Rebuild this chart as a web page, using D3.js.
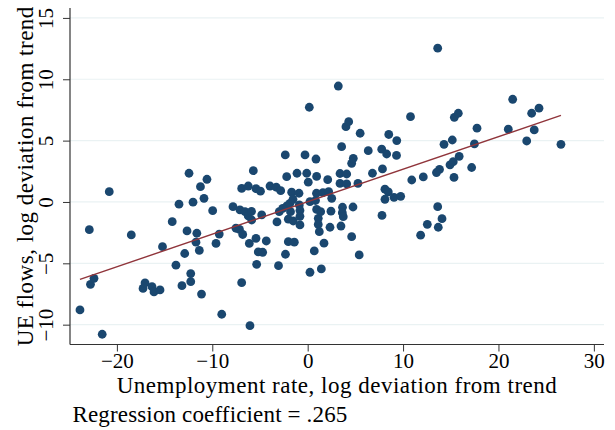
<!DOCTYPE html>
<html>
<head>
<meta charset="utf-8">
<script src="https://cdn.jsdelivr.net/npm/d3@7"></script>
<style>
  html, body { margin: 0; padding: 0; background: #ffffff; }
  svg { display: block; }
  text { font-family: "Liberation Serif", "Times New Roman", serif; fill: #000; }
</style>
</head>
<body>
<script>
// Unemployment rate, log deviation from trend (x)
const unemployment = [
  -23.87, -22.77, -22.40, -22.89, -21.54, -20.80, -18.49, -17.26, -17.05, -16.32,
  -16.11, -15.48, -15.22, -14.20, -13.81, -13.49, -13.18, -12.89, -12.65, -12.44,
  -12.26, -12.26, -12.02, -11.62, -11.71, -11.36, -11.13, -11.24, -10.87, -10.56,
  -9.96, -9.27, -9.61, -9.01, -7.83, -7.52, -7.15, -7.10, -6.92, -6.92,
  -6.81, -6.57, -6.23, -6.23, -6.12, -6.05, -5.87, -5.89, -5.70, -5.42,
  -5.42, -5.35, -5.18, -4.72, -4.95, -4.82, -4.34, -3.95, -3.29, -3.22,
  -3.06, -2.83, -2.98, -2.62, -2.35, -2.20, -2.20, -2.33, -2.03, -2.03,
  -1.86, -1.80, -1.68, -1.54, -1.51, -1.40, -0.91, -0.88, -0.81, -0.81,
  -0.81, -1.12, -0.28, -0.10, 0.06, 0.17, 0.24, 0.24, 0.69, 0.87,
  0.94, 0.92, 0.82, 0.94, 1.11, 1.11, 1.22, 1.36, 1.43, 1.60,
  1.71, 2.10, 2.20, 2.52, 2.44, 2.34, 3.21, 3.39, 3.39, 3.56,
  3.65, 3.63, 3.49, 3.73, 4.01, 4.30, 4.09, 4.09, 4.61, 4.61,
  4.78, 4.75, 5.27, 5.40, 5.50, 6.35, 6.79, 7.76, 7.84, 7.79,
  8.28, 8.10, 8.45, 8.10, 8.50, 9.05, 9.31, 9.34, 9.75, 10.78,
  10.91, 11.84, 12.12, 12.54, 13.63, 13.63, 13.69, 13.82, 13.50, 14.08,
  14.29, 14.92, 15.16, 15.26, 15.34, 15.37, 15.79, 15.88, 17.19, 17.48,
  17.75, 21.03, 21.49, 22.96, 23.48, 23.75, 24.25, 26.55
];

// UE flows, log deviation from trend (y)
const ueFlows = [
  -8.80, -6.71, -6.22, -2.26, -10.78, 0.84, -2.69, -7.05, -6.60, -6.90,
  -7.33, -7.17, -3.64, -1.61, -5.15, -0.18, -6.82, -4.20, -2.36, 2.34,
  -5.84, -6.50, -0.02, -2.55, -3.28, -3.95, -7.51, 1.25, 0.30, 1.85,
  -0.71, -2.62, -3.38, -9.15, -0.38, -2.14, -2.24, -0.64, 1.10, -6.58,
  -2.65, -0.79, 1.30, -1.14, -3.38, -10.08, -1.47, -0.77, 2.55, 1.08,
  -2.96, -5.08, -4.07, -4.10, 0.88, -1.06, -3.18, 1.30, 1.20, -1.63,
  -5.19, 0.92, -0.79, -0.53, 3.83, 2.06, -0.33, -4.26, -1.40, -3.24,
  -0.11, -0.79, 0.80, 0.22, -1.55, -3.28, 0.71, -0.24, -0.69, -1.17,
  -1.87, 2.34, 3.83, 2.34, 1.61, 7.72, 0.02, -5.73, -3.99, 3.50,
  2.08, 0.71, 0.12, -0.61, -1.33, -1.83, -2.42, -0.79, -5.46, 0.76,
  -3.36, 1.82, 0.84, 0.30, -0.75, -2.06, 9.45, 2.32, 1.51, 4.51,
  -0.43, -0.87, -1.96, -1.20, 6.14, 6.54, 2.28, 1.47, -2.83, 3.15,
  3.56, -0.41, 1.51, -4.32, 5.60, 4.18, 2.34, 4.30, 2.69, -1.10,
  3.91, 1.04, 0.82, 0.22, 5.50, 0.38, 3.79, 5.00, 0.46, 6.95,
  1.79, -2.71, 2.04, -1.82, 12.53, -0.38, -2.06, 2.65, 2.40, -1.36,
  4.70, 3.03, 5.05, 3.28, 2.00, 6.90, 7.23, 3.72, 2.81, 4.73,
  6.01, 5.93, 8.37, 4.97, 7.23, 5.87, 7.64, 4.70
];

// Fitted line: UE flows on unemployment
const fitSlope = 0.265;
const fitIntercept = 0.02;

const xTicks = [-20, -10, 0, 10, 20, 30];
const yTicks = [-10, -5, 0, 5, 10, 15];
const xTitle = "Unemployment rate, log deviation from trend";
const yTitle = "UE flows, log deviation from trend";
const noteText = "Regression coefficient = .265";

const W = 615, H = 430;
const svg = d3.select("body").append("svg").attr("width", W).attr("height", H);

const x = d3.scaleLinear().domain([-25, 31]).range([69.2, 603.4]);
const y = d3.scaleLinear().domain([-11.6, 15.8]).range([344.3, 8.1]);

const plotLeft = 70, plotRight = 604, plotBottom = 344.5, plotTop = 8;

// Horizontal gridlines
svg.append("g").selectAll("line").data(yTicks).join("line")
  .attr("x1", plotLeft).attr("x2", plotRight)
  .attr("y1", d => y(d)).attr("y2", d => y(d))
  .attr("stroke", "#eaf2f3").attr("stroke-width", 1.2);

// Y axis
const yAxis = svg.append("g").attr("transform", `translate(${plotLeft},0)`)
  .call(d3.axisLeft(y).tickValues(yTicks).tickSize(7).tickSizeOuter(0));
yAxis.select(".domain").attr("stroke", "#333").attr("stroke-width", 1.2)
  .attr("d", `M0,${plotTop}V${plotBottom}`);
yAxis.selectAll(".tick line").attr("stroke", "#333");
yAxis.selectAll(".tick text")
  .attr("font-size", 21).attr("fill", "#000")
  .attr("font-family", "Liberation Serif, serif")
  .attr("text-anchor", "middle")
  .attr("transform", "rotate(-90)")
  .attr("x", 0).attr("y", -17).attr("dy", 0);

// X axis
const xAxis = svg.append("g").attr("transform", `translate(0,${plotBottom})`)
  .call(d3.axisBottom(x).tickValues(xTicks).tickSize(7).tickPadding(2).tickSizeOuter(0));
xAxis.select(".domain").attr("stroke", "#333").attr("stroke-width", 1.2)
  .attr("d", `M${plotLeft},0H${plotRight}`);
xAxis.selectAll(".tick line").attr("stroke", "#333");
xAxis.selectAll(".tick text").attr("font-size", 21).attr("fill", "#000")
  .attr("font-family", "Liberation Serif, serif");

// Points
svg.append("g").selectAll("circle").data(unemployment).join("circle")
  .attr("cx", d => x(d))
  .attr("cy", (d, i) => y(ueFlows[i]))
  .attr("r", 4.4)
  .attr("fill", "#1a476f");

// Fitted line across the observed range
const xMin = d3.min(unemployment), xMax = d3.max(unemployment);
svg.append("line")
  .attr("x1", x(xMin)).attr("y1", y(fitIntercept + fitSlope * xMin))
  .attr("x2", x(xMax)).attr("y2", y(fitIntercept + fitSlope * xMax))
  .attr("stroke", "#90353b").attr("stroke-width", 1.4);

// Titles and note
svg.append("text").attr("x", (plotLeft + plotRight) / 2).attr("y", 393)
  .attr("text-anchor", "middle").attr("font-size", 23)
  .attr("letter-spacing", 0.5).text(xTitle);
svg.append("text").attr("transform", `translate(33,${(plotTop + plotBottom) / 2}) rotate(-90)`)
  .attr("text-anchor", "middle").attr("font-size", 23)
  .attr("letter-spacing", 0.5).text(yTitle);
svg.append("text").attr("x", 72.5).attr("y", 422)
  .attr("font-size", 23).attr("letter-spacing", 0.15).text(noteText);
</script>
</body>
</html>
